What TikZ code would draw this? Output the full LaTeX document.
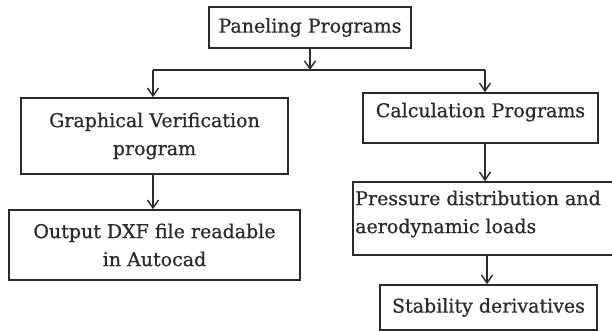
\documentclass[tikz,border=0pt]{standalone}
\usepackage{fontspec}
\setmainfont{DejaVu Serif}[RawFeature={embolden=0.7}]
\usetikzlibrary{arrows.meta}
\definecolor{ink}{HTML}{2A2A2A}
\begin{document}
\begin{tikzpicture}[x=1pt,y=-1pt,
  lbl/.style={text=ink,font=\fontsize{19}{28}\selectfont},
  box/.style={lbl,draw=ink,line width=1.6pt,inner sep=0pt,align=center},
  conn/.style={draw=ink,line width=1.6pt},
  arr/.style={conn,-{Straight Barb[length=8pt,width=11pt,line width=1.4pt]}}]
\useasboundingbox (0,0) rectangle (612,331);
\node[box,minimum width=202pt,minimum height=41pt] (pan) at (310,27.5) {Paneling Programs};
\node[box,minimum width=267pt,minimum height=76pt] (gv) at (154.5,136) {Graphical Verification\\program};
\node[box,minimum width=235pt,minimum height=50pt,text depth=16pt] (calc) at (480.5,118) {Calculation Programs};
\node[box,minimum width=291pt,minimum height=70pt] (out) at (154.5,245) {Output DXF file readable\\in Autocad};
\node[box,minimum width=261pt,minimum height=73pt] (pres) at (483.5,218.5) {};
\node[lbl,anchor=west,inner sep=0pt,align=left] (prestext) at (355,214) {Pressure distribution and\\aerodynamic loads};
\node[box,minimum width=217pt,minimum height=45pt] (stab) at (488.5,307.5) {Stability derivatives};
\coordinate (jm) at (310,70);
\coordinate (jl) at (153,70);
\coordinate (jr) at (485,70);
\coordinate (cm) at (485,143);
\coordinate (pm) at (487,255);
\draw[arr] (pan.south) -- (jm);
\draw[conn] (jl) -- (jr);
\draw[arr] (jl) -- (jl |- gv.north);
\draw[arr] (jr) -- (jr |- calc.north);
\draw[arr] (gv.south -| jl) -- (jl |- out.north);
\draw[arr] (cm) -- (cm |- pres.north);
\draw[arr] (pm) -- (pm |- stab.north);
\end{tikzpicture}
\end{document}
